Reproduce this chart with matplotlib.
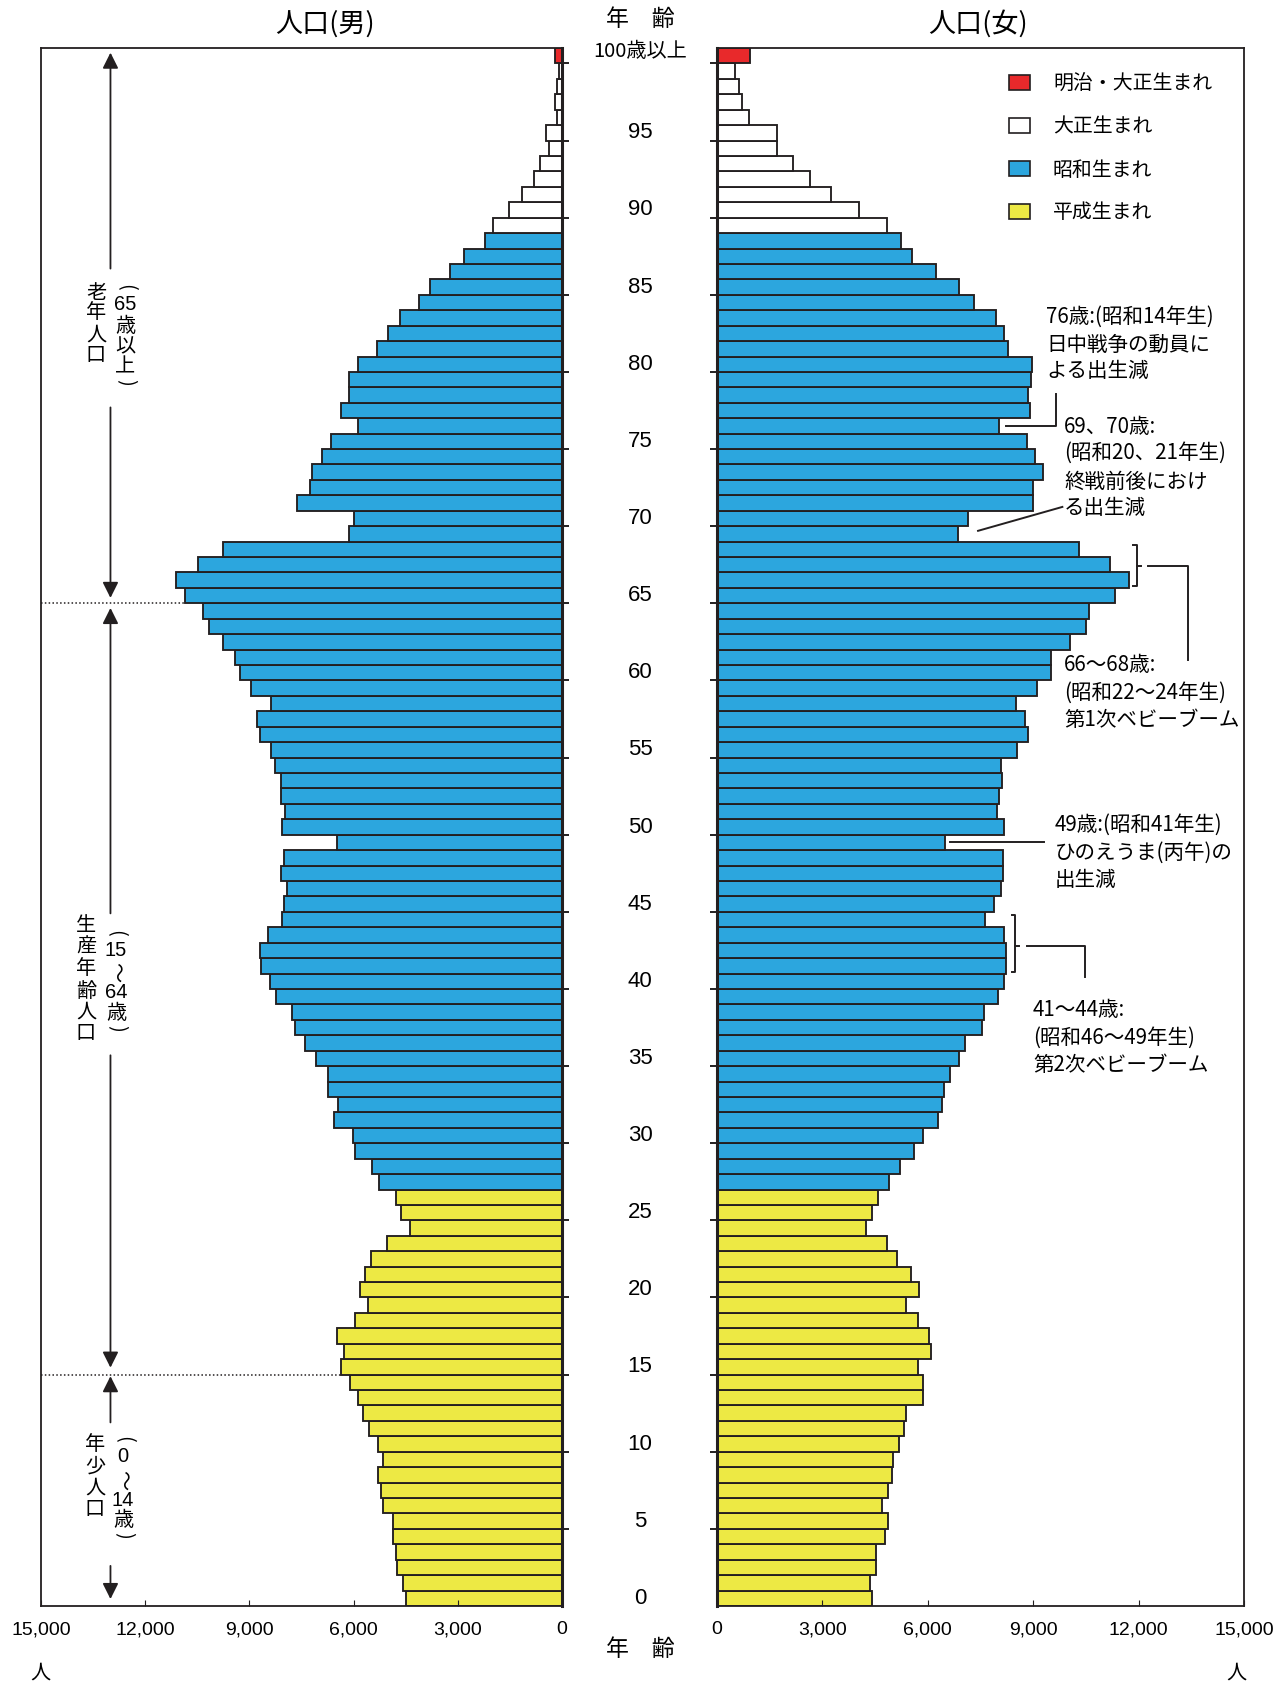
import numpy as np
import matplotlib
matplotlib.use('Agg')
import matplotlib.pyplot as plt
import matplotlib.transforms as mtransforms
from matplotlib.patches import Rectangle

plt.rcParams['font.family'] = ['Noto Sans CJK JP', 'DejaVu Sans']

# ---- donnees ----
ages = np.arange(0, 101)   # 100 = 100歳以上

male = [4500, 4580, 4750, 4770, 4860, 4860, 5160, 5220, 5300, 5160,
        5300, 5560, 5740, 5870, 6090, 6350, 6290, 6480, 5950, 5590,
        5830, 5670, 5500, 5050, 4370, 4630, 4790, 5260, 5470, 5950,
        6020, 6560, 6460, 6730, 6730, 7080, 7410, 7700, 7780, 8220,
        8400, 8670, 8700, 8460, 8050, 7990, 7930, 8080, 7990, 6490,
        8050, 7970, 8080, 8090, 8260, 8380, 8690, 8790, 8380, 8950,
        9280, 9420, 9750, 10150, 10340, 10860, 11120, 10490, 9770, 6140,
        5980, 7620, 7260, 7210, 6920, 6650, 5880, 6350, 6120, 6120,
        5870, 5330, 5000, 4670, 4120, 3790, 3220, 2830, 2220, 2000,
        1540, 1140, 810, 620, 370, 450, 150, 190, 130, 80,
        190]

female = [4410, 4360, 4520, 4520, 4780, 4860, 4690, 4880, 4970, 5020,
          5190, 5320, 5390, 5870, 5870, 5720, 6100, 6040, 5730, 5390,
          5750, 5510, 5130, 4830, 4240, 4420, 4580, 4890, 5210, 5620,
          5870, 6290, 6390, 6470, 6620, 6890, 7060, 7530, 7590, 8010,
          8180, 8230, 8220, 8160, 7630, 7890, 8090, 8140, 8150, 6500,
          8180, 7980, 8030, 8110, 8090, 8530, 8860, 8770, 8510, 9100,
          9520, 9500, 10040, 10500, 10580, 11320, 11730, 11180, 10290, 6860,
          7150, 9000, 9000, 9270, 9040, 8810, 8040, 8920, 8860, 8940,
          8980, 8280, 8160, 7930, 7320, 6900, 6220, 5540, 5250, 4830,
          4050, 3250, 2650, 2160, 1700, 1700, 910, 710, 630, 510,
          950]

# cohortes de naissance (age le plus jeune de chaque cohorte)
cohortes = ['明治・大正生まれ', '大正生まれ', '昭和生まれ', '平成生まれ']
couleurs = ['#e8292b', '#ffffff', '#2ca6de', '#ede944']
age_min_cohorte = [100, 89, 27, 0]

xticks = [0, 3000, 6000, 9000, 12000, 15000]

EDGE = '#231f20'
W, H = 1281, 1682
NARROW = ['Liberation Sans Narrow', 'Liberation Sans']


def fx(x):
    return x / W


def fy(y):
    return 1 - y / H


def couleur_age(a):
    for c, amin in zip(couleurs, age_min_cohorte):
        if a >= amin:
            return c
    return couleurs[-1]


bar_colors = [couleur_age(a) for a in ages]

fig = plt.figure(figsize=(W / 100, H / 100), dpi=100)
ax_m = fig.add_axes([fx(41), fy(1606), (562 - 41) / W, (1606 - 48) / H])
ax_f = fig.add_axes([fx(717), fy(1606), (1244 - 717) / W, (1606 - 48) / H])

for ax, vals in [(ax_m, male), (ax_f, female)]:
    ax.barh(ages, vals, height=1.0, color=bar_colors, edgecolor=EDGE, linewidth=1.35)
    ax.set_ylim(-0.5, 100.5)
    for sp in ax.spines.values():
        sp.set_color(EDGE)
        sp.set_linewidth(1.3)
    ax.set_xticks(xticks)
    ax.set_xticklabels(['{:,}'.format(v) for v in xticks], family=NARROW, fontsize=14)
    ax.tick_params(axis='x', direction='in', length=4, width=0.8, color=EDGE, pad=11)
    ax.set_yticks(np.arange(4.5, 100, 5))

ax_m.set_xlim(15000, 0)
ax_f.set_xlim(0, 15000)
ax_m.spines['right'].set_linewidth(2.2)
ax_f.spines['left'].set_linewidth(2.2)
ax_m.yaxis.tick_right()
ax_m.tick_params(axis='y', direction='out', length=5, width=1.4, color=EDGE, labelright=False)
ax_f.tick_params(axis='y', direction='out', length=5, width=1.4, color=EDGE, labelleft=False)

# etiquettes d'age au centre
trans = mtransforms.blended_transform_factory(fig.transFigure, ax_m.transData)
for a in range(0, 100, 5):
    fig.text(fx(640), a, str(a), transform=trans, ha='center', va='center',
             fontsize=16, family='Liberation Sans')
fig.text(fx(640), 100.3, '100歳以上', transform=trans, ha='center', va='center', fontsize=14.5)

fig.text(fx(640), fy(19), '年　齢', ha='center', va='center', fontsize=16.5)
fig.text(fx(640), fy(1649), '年　齢', ha='center', va='center', fontsize=16.5)
fig.text(fx(325), fy(24), '人口(男)', ha='center', va='center', fontsize=19.5)
fig.text(fx(978), fy(24), '人口(女)', ha='center', va='center', fontsize=19.5)
fig.text(fx(40), fy(1673), '人', ha='center', va='center', fontsize=14.5)
fig.text(fx(1236), fy(1673), '人', ha='center', va='center', fontsize=14.5)

# legende
for i, (nom, c) in enumerate(zip(cohortes, couleurs)):
    yc = 82 + i * 43
    fig.add_artist(Rectangle((fx(1009), fy(yc + 7.5)), 21 / W, 15 / H, transform=fig.transFigure,
                             facecolor=c, edgecolor=EDGE, linewidth=1.2))
    fig.text(fx(1053), fy(yc + 2), nom, ha='left', va='center', fontsize=14.3)


# groupes d'age (texte vertical)
def colonne(x, items):
    for s, y, rot in items:
        fam = NARROW if s[0].isdigit() else None
        fig.text(fx(x), fy(y), s, ha='center', va='center', rotation=rot, fontsize=14.5,
                 family=fam)


colonne(96, [('老', 293, 0), ('年', 313, 0), ('人', 335, 0), ('口', 355, 0)])
colonne(125, [('(', 287, -90), ('65', 304, 0), ('歳', 326, 0), ('以', 347, 0), ('上', 367, 0), (')', 382, -90)])
colonne(86, [('生', 926, 0), ('産', 947, 0), ('年', 968, 0), ('齢', 991, 0), ('人', 1012, 0), ('口', 1033, 0)])
colonne(116, [('(', 933, -90), ('15', 950, 0), ('～', 972, -90), ('64', 993, 0), ('歳', 1013, 0), (')', 1028, -90)])
colonne(95, [('年', 1445, 0), ('少', 1467, 0), ('人', 1488, 0), ('口', 1509, 0)])
colonne(123, [('(', 1439, -90), ('0', 1456, 0), ('～', 1480, -90), ('14', 1501, 0), ('歳', 1520, 0), (')', 1535, -90)])

# fleches
fleche = dict(arrowstyle='-|>,head_length=0.5,head_width=0.25', mutation_scale=19,
              color=EDGE, lw=1.3, shrinkA=0, shrinkB=0)
for tete, queue in [(100.2, 86.2), (64.85, 77.2), (64.2, 44.4), (14.95, 35.2), (14.4, 11.4), (-0.05, 2.1)]:
    ax_m.annotate('', xy=(13000, tete), xytext=(13000, queue), arrowprops=fleche, annotation_clip=False)

ax_m.hlines([64.5, 14.5], 15000, [male[65], male[15]], colors=EDGE, linewidth=1.1,
            linestyles=(0, (1, 1.5)))

# annotations (cote femmes)
kw = dict(color=EDGE, lw=1.4, clip_on=False)
ax_f.plot([female[76] + 180, 9660, 9660], [76, 76, 78.1], **kw)
ax_f.plot([7430, 9830], [69.2, 70.75], **kw)
ax_f.plot([11850, 11960, 11960, 11850], [68.3, 68.3, 65.6, 65.6], **kw)
ax_f.plot([11960, 12070], [66.9, 66.9], **kw)
ax_f.plot([12270, 13410, 13410], [66.9, 66.9, 60.85], **kw)
ax_f.plot([female[49] + 140, 9300], [49, 49], **kw)
ax_f.plot([8385, 8495, 8495, 8385], [44.3, 44.3, 40.6, 40.6], **kw)
ax_f.plot([8495, 8600], [42.3, 42.3], **kw)
ax_f.plot([8810, 10470, 10470], [42.3, 42.3, 40.3], **kw)

notes = [
    (1046, 317, '76歳:(昭和14年生)'),
    (1046, 345, '日中戦争の動員に'),
    (1046, 371, 'よる出生減'),
    (1064, 427, '69、70歳:'),
    (1064, 453, '(昭和20、21年生)'),
    (1064, 482, '終戦前後におけ'),
    (1064, 508, 'る出生減'),
    (1064, 665, '66～68歳:'),
    (1064, 693, '(昭和22～24年生)'),
    (1064, 720, '第1次ベビーブーム'),
    (1055, 825, '49歳:(昭和41年生)'),
    (1055, 853, 'ひのえうま(丙午)の'),
    (1055, 880, '出生減'),
    (1033, 1010, '41～44歳:'),
    (1033, 1038, '(昭和46～49年生)'),
    (1033, 1065, '第2次ベビーブーム'),
]
for x, y, s in notes:
    fig.text(fx(x), fy(y), s, ha='left', va='center', fontsize=14.8)

fig.savefig('out.png', dpi=100, facecolor='white')
